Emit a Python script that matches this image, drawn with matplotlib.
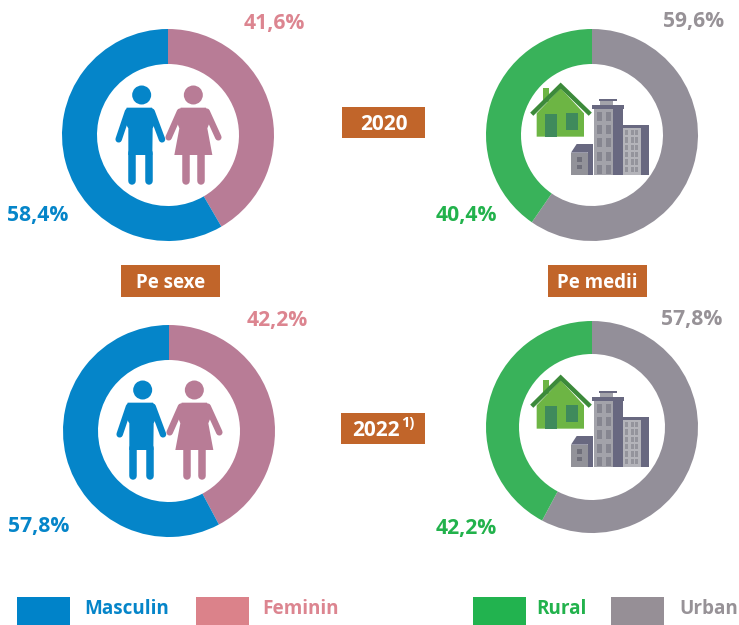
import matplotlib
matplotlib.use("Agg")
import matplotlib.pyplot as plt
from matplotlib.patches import Circle, Polygon, Rectangle

W, H = 739, 625

sexe_labels = ["Feminin", "Masculin"]
medii_labels = ["Urban", "Rural"]
sexe_2020 = [41.6, 58.4]
medii_2020 = [59.6, 40.4]
sexe_2022 = [42.2, 57.8]
medii_2022 = [57.8, 42.2]

BLUE = "#0585c9"
ROSE = "#b87c96"
PINK = "#dc8590"
GREEN = "#39b25a"
GREEN_L = "#22b24c"
GREY = "#938f99"
GREY_L = "#979297"
ORANGE = "#c1652a"

plt.rcParams["font.family"] = ["Open Sans", "DejaVu Sans"]

fig = plt.figure(figsize=(W / 100, H / 100), dpi=100)
ax = fig.add_axes([0, 0, 1, 1])


def yy(y):
    return H - y


def donut(cx, cy, values, colors, r=106, r_in=71):
    ax.pie(values, colors=colors, startangle=90, counterclock=False,
           center=(cx, yy(cy)), radius=r,
           wedgeprops=dict(width=r - r_in, linewidth=0))


def fmt(v):
    return f"{v:.1f}".replace(".", ",") + "%"


def label(x, y, txt, color, size=15.2, ha="center"):
    ax.text(x, yy(y - 1), txt, color=color, fontsize=size, fontweight="bold",
            ha=ha, va="center_baseline")


def banner(x0, x1, y0, y1, txt, size=13.5):
    ax.add_patch(Rectangle((x0, yy(y1)), x1 - x0, y1 - y0, color=ORANGE, lw=0))
    ax.text((x0 + x1) / 2, yy((y0 + y1) / 2 - 1), txt, color="white", fontsize=size,
            fontweight="bold", ha="center", va="center_baseline")


def person_icon(cx, cy):
    # coordinates in a 3x crop, shifted to the donut centre
    def px(x, y):
        return cx - 68 + x / 3, yy(cy - 65 + y / 3)

    def stroke(p0, p1, color, w):
        xa, ya = px(*p0)
        xb, yb = px(*p1)
        ax.plot([xa, xb], [ya, yb], color=color, lw=w * 0.72, solid_capstyle="round")

    ax.add_patch(Circle(px(125, 75), 9.5, color=BLUE, lw=0))
    ax.add_patch(Polygon([px(*p) for p in [(80, 113), (156, 113), (170, 150), (158, 175), (157, 255), (85, 255), (85, 175), (70, 150)]],
                         color=BLUE, lw=0))
    stroke((84, 125), (56, 208), BLUE, 6.5)
    stroke((155, 125), (186, 208), BLUE, 6.5)
    stroke((97, 250), (97, 332), BLUE, 7.5)
    stroke((146, 250), (146, 332), BLUE, 7.5)

    ax.add_patch(Circle(px(280, 75), 9.5, color=ROSE, lw=0))
    ax.add_patch(Polygon([px(*p) for p in [(242, 113), (318, 113), (332, 150), (322, 175), (337, 255), (223, 255), (238, 175), (228, 150)]],
                         color=ROSE, lw=0))
    stroke((240, 125), (206, 202), ROSE, 6.5)
    stroke((320, 125), (355, 202), ROSE, 6.5)
    stroke((258, 250), (258, 332), ROSE, 7.5)
    stroke((302, 250), (302, 332), ROSE, 7.5)


def city_icon(cx, cy):
    def px(x, y):
        return cx - 72 + x / 3, yy(cy - 65 + y / 3)

    def box(x0, y0, x1, y1, color):
        ax.add_patch(Polygon([px(x0, y0), px(x1, y0), px(x1, y1), px(x0, y1)], color=color, lw=0))

    # house
    box(70, 55, 87, 95, "#6db544")
    ax.add_patch(Polygon([px(*p) for p in [(50, 130), (122, 55), (192, 130), (192, 200), (50, 200)]],
                         color="#6db544", lw=0))
    xs, ys = zip(*[px(*p) for p in [(40, 128), (122, 47), (206, 128)]])
    ax.plot(xs, ys, color="#3c8a3a", lw=3.2, solid_joinstyle="miter")
    box(75, 133, 110, 200, "#3f8a5c")
    box(138, 128, 173, 180, "#3f8a5c")

    dark = "#686880"
    # tall building
    box(222, 118, 280, 315, "#a3a3aa")
    box(280, 118, 308, 315, dark)
    box(215, 105, 313, 118, dark)
    box(240, 92, 280, 105, "#a3a3aa")
    box(238, 87, 290, 92, dark)
    for row in range(5):
        for col in (232, 258):
            box(col, 125 + row * 40, col + 14, 152 + row * 40, "#868690")

    # right building
    box(310, 175, 362, 315, "#b4b4ba")
    box(362, 165, 388, 315, dark)
    box(310, 165, 388, 175, dark)
    for row in range(6):
        for col in (316, 332, 346):
            box(col, 180 + row * 22, col + 9, 196 + row * 22, "#94949c")

    # small building
    box(153, 248, 203, 315, "#929299")
    box(203, 222, 218, 315, dark)
    ax.add_patch(Polygon([px(*p) for p in [(153, 248), (170, 222), (218, 222), (203, 248)]], color=dark, lw=0))
    box(170, 262, 185, 275, "#6f6f7a")
    box(170, 285, 185, 298, "#6f6f7a")


donut(168, 135, sexe_2020, [ROSE, BLUE])
donut(592, 135, medii_2020, [GREY, GREEN])
donut(169, 431, sexe_2022, [ROSE, BLUE])
donut(592, 427, medii_2022, [GREY, GREEN], r_in=73)

person_icon(168, 135)
person_icon(169, 430)
city_icon(592, 135)
city_icon(592, 427)

label(274, 22, fmt(sexe_2020[0]), PINK)
label(38, 214, fmt(sexe_2020[1]), BLUE)
label(694, 20, fmt(medii_2020[0]), GREY_L)
label(466, 214, fmt(medii_2020[1]), GREEN_L)
label(277, 319, fmt(sexe_2022[0]), PINK)
label(39, 525, fmt(sexe_2022[1]), BLUE)
label(692, 318, fmt(medii_2022[0]), GREY_L)
label(466, 527, fmt(medii_2022[1]), GREEN_L)

banner(342, 425, 107, 138, "2020", size=15)
banner(121, 220, 265, 297, "Pe sexe")
banner(548, 647, 265, 297, "Pe medii")
banner(341, 425, 413, 444, "")
ax.text(352, yy(428), "2022", color="white", fontsize=15, fontweight="bold", ha="left", va="center_baseline")
ax.text(401, yy(421), "1)", color="white", fontsize=10.5, fontweight="bold", ha="left", va="center_baseline")

# legend
leg_boxes = [17, 196, 473, 611]
leg_colors = ["#0083c9", "#db828a", "#22b34f", "#968f96"]
leg_text_x = [84, 262, 536, 679]
leg_names = [sexe_labels[1], sexe_labels[0], medii_labels[1], medii_labels[0]]
leg_text_colors = [BLUE, PINK, GREEN_L, GREY_L]
for x, c, tx, name, tc in zip(leg_boxes, leg_colors, leg_text_x, leg_names, leg_text_colors):
    ax.add_patch(Rectangle((x, yy(625)), 53, 28, color=c, lw=0))
    ax.text(tx, yy(607), name, color=tc, fontsize=13.6, fontweight="bold", ha="left", va="center_baseline")

ax.set_xlim(0, W)
ax.set_ylim(0, H)
ax.set_aspect("equal")
ax.axis("off")
fig.savefig("out.png", dpi=100, facecolor="white")
